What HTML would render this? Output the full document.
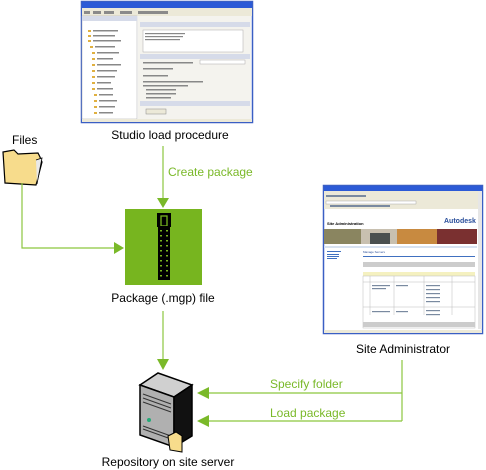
<!DOCTYPE html>
<html><head><style>
html,body{margin:0;padding:0;background:#fff;width:486px;height:470px;overflow:hidden}
svg{display:block}
text{font-family:"Liberation Sans",Arial,sans-serif;font-size:12px}
</style></head><body>
<svg width="486" height="470" viewBox="0 0 486 470">
<!-- Top screenshot -->
<g>
<rect x="81.5" y="1.5" width="171" height="121" fill="#fff" stroke="#3a5fc4" stroke-width="1.5"/>
<rect x="82" y="2" width="170" height="6" fill="#2c5ad6"/>
<rect x="82" y="8" width="170" height="8" fill="#ece9d8"/>
<g fill="#8a8a8a"><rect x="84" y="11" width="6" height="3"/><rect x="93" y="11" width="8" height="3"/><rect x="104" y="11" width="10" height="3"/><rect x="120" y="11" width="12" height="3"/><rect x="138" y="11" width="30" height="3"/></g>
<rect x="82" y="16" width="55" height="103" fill="#fff" stroke="#aaa" stroke-width="0.5"/>
<rect x="82" y="16" width="55" height="5" fill="#d6dbe9"/>
<g fill="#e0b040">
<rect x="88" y="30" width="3" height="2"/><rect x="88" y="35" width="3" height="2"/><rect x="88" y="40" width="3" height="2"/><rect x="90" y="46" width="3" height="2"/><rect x="92" y="52" width="3" height="2"/><rect x="92" y="58" width="3" height="2"/><rect x="92" y="64" width="3" height="2"/><rect x="92" y="70" width="3" height="2"/><rect x="92" y="76" width="3" height="2"/><rect x="92" y="82" width="3" height="2"/><rect x="92" y="88" width="3" height="2"/><rect x="94" y="94" width="3" height="2"/><rect x="94" y="100" width="3" height="2"/><rect x="94" y="106" width="3" height="2"/><rect x="94" y="112" width="3" height="2"/></g>
<g fill="#888"><rect x="93" y="30" width="25" height="1.5"/><rect x="93" y="35" width="22" height="1.5"/><rect x="93" y="40" width="28" height="1.5"/><rect x="95" y="46" width="20" height="1.5"/><rect x="97" y="52" width="22" height="1.5"/><rect x="97" y="58" width="16" height="1.5"/><rect x="97" y="64" width="24" height="1.5"/><rect x="97" y="70" width="20" height="1.5"/><rect x="97" y="76" width="18" height="1.5"/><rect x="97" y="82" width="14" height="1.5"/><rect x="97" y="88" width="16" height="1.5"/><rect x="99" y="94" width="14" height="1.5"/><rect x="99" y="100" width="18" height="1.5"/><rect x="99" y="106" width="16" height="1.5"/><rect x="99" y="112" width="14" height="1.5"/></g>
<rect x="138" y="16" width="113" height="103" fill="#f4f3ee"/>
<rect x="140" y="22" width="110" height="5" fill="#d6dbe9"/>
<rect x="143" y="30" width="100" height="22" fill="#fff" stroke="#aaa" stroke-width="0.5"/>
<g fill="#888"><rect x="145" y="33" width="40" height="1.2"/><rect x="145" y="36" width="38" height="1.2"/><rect x="145" y="39" width="35" height="1.2"/></g>
<rect x="140" y="54" width="110" height="5" fill="#d6dbe9"/>
<rect x="140" y="101" width="110" height="5" fill="#d6dbe9"/>
<rect x="200" y="60" width="45" height="4" fill="#fff" stroke="#aaa" stroke-width="0.5"/>
<g fill="#888"><rect x="143" y="62" width="50" height="1.5"/><rect x="143" y="68" width="30" height="1.5"/><rect x="143" y="75" width="25" height="1.5"/><rect x="143" y="81" width="60" height="1.5"/><rect x="143" y="85" width="45" height="1.5"/><rect x="146" y="89" width="30" height="1.5"/><rect x="146" y="93" width="30" height="1.5"/><rect x="146" y="97" width="25" height="1.5"/></g>
<rect x="146" y="109" width="20" height="5" fill="#ece9d8" stroke="#888" stroke-width="0.5"/>
<rect x="82" y="119" width="170" height="3" fill="#ece9d8"/>
</g>
<text x="170" y="139" text-anchor="middle">Studio load procedure</text>
<text x="168" y="176" fill="#7ab929">Create package</text>
<line x1="163" y1="146" x2="163" y2="200" stroke="#8cc63f" stroke-width="1.2"/>
<polygon points="157,198 169,198 163,208" fill="#7ab929"/>
<!-- Files -->
<text x="12" y="144">Files</text>
<g>
<path d="M3,152 L14,150 L18,154 L38,153 L40,157 L42,162 L36,185 L5,183 Z" fill="#f7dc8c" stroke="#000" stroke-width="1.2"/>
<path d="M36,160 L42,158 L37,184" fill="#e9e9e9" stroke="#000" stroke-width="0.8"/>
</g>
<polyline points="22,183 22,248 118,248" fill="none" stroke="#8cc63f" stroke-width="1.2"/>
<polygon points="114,242 124,248 114,254" fill="#7ab929"/>
<!-- package box -->
<rect x="125" y="209" width="77" height="76" fill="#77b51f"/>
<rect x="157" y="213" width="14" height="14" fill="#000"/>
<rect x="161" y="216" width="6" height="10" fill="none" stroke="#77b51f" stroke-width="1.3"/>
<rect x="158" y="226" width="12" height="54" fill="#000"/>
<g fill="#77b51f">
<rect x="160" y="230" width="2" height="1.5"/><rect x="166" y="230" width="2" height="1.5"/>
<rect x="160" y="235" width="2" height="1.5"/><rect x="166" y="235" width="2" height="1.5"/>
<rect x="160" y="240" width="2" height="1.5"/><rect x="166" y="240" width="2" height="1.5"/>
<rect x="160" y="245" width="2" height="1.5"/><rect x="166" y="245" width="2" height="1.5"/>
<rect x="160" y="250" width="2" height="1.5"/><rect x="166" y="250" width="2" height="1.5"/>
<rect x="160" y="255" width="2" height="1.5"/><rect x="166" y="255" width="2" height="1.5"/>
<rect x="160" y="260" width="2" height="1.5"/><rect x="166" y="260" width="2" height="1.5"/>
<rect x="160" y="265" width="2" height="1.5"/><rect x="166" y="265" width="2" height="1.5"/>
<rect x="160" y="270" width="2" height="1.5"/><rect x="166" y="270" width="2" height="1.5"/>
<rect x="160" y="275" width="2" height="1.5"/><rect x="166" y="275" width="2" height="1.5"/>
</g>
<text x="163" y="302" text-anchor="middle">Package (.mgp) file</text>
<line x1="163" y1="311" x2="163" y2="362" stroke="#8cc63f" stroke-width="1.2"/>
<polygon points="157,359 169,359 163,370" fill="#7ab929"/>
<!-- server -->
<g>
<polygon points="140,385 158,373 192,385 174,397" fill="#d0d0d0" stroke="#000" stroke-width="1.5"/>
<polygon points="140,385 174,397 174,447 140,435" fill="#b0b0b0" stroke="#000" stroke-width="1.5"/>
<polygon points="174,397 192,385 192,436 174,447" fill="#111" stroke="#000" stroke-width="1.5"/>
<line x1="143" y1="394" x2="171" y2="404" stroke="#333" stroke-width="1"/>
<line x1="143" y1="398" x2="171" y2="408" stroke="#333" stroke-width="1"/>
<line x1="143" y1="402" x2="171" y2="412" stroke="#333" stroke-width="1"/>
<circle cx="149" cy="420" r="2" fill="#2a7"/>
<line x1="143" y1="426" x2="171" y2="436" stroke="#333"/>
<line x1="143" y1="429" x2="171" y2="439" stroke="#333"/>
<polygon points="168,436 176,432 182,436 182,452 170,450" fill="#f7dc8c" stroke="#000" stroke-width="1"/>
</g>
<text x="168" y="466" text-anchor="middle">Repository on site server</text>
<!-- site admin screenshot -->
<g>
<rect x="323.5" y="185.5" width="159" height="148" fill="#fff" stroke="#3a5fc4" stroke-width="1.5"/>
<rect x="324" y="186" width="158" height="5" fill="#2c5ad6"/>
<rect x="324" y="191" width="158" height="18" fill="#ece9d8"/>
<g fill="#7a8aa0"><rect x="326" y="195" width="40" height="2"/><rect x="330" y="205" width="60" height="2"/></g>
<rect x="326" y="201" width="90" height="3" fill="#fff" stroke="#999" stroke-width="0.4"/>
<text x="327" y="225" style="font-size:4px;font-weight:bold">Site Administration</text>
<text x="444" y="223" style="font-size:7px;font-weight:bold" fill="#2a4f9b" font-family="Liberation Serif">Autodesk</text>
<rect x="324" y="229" width="37" height="15" fill="#8a8560"/>
<rect x="361" y="229" width="36" height="15" fill="#c8c0b0"/>
<rect x="370" y="233" width="20" height="11" fill="#4a5050"/>
<rect x="397" y="229" width="40" height="15" fill="#c88a40"/>
<rect x="437" y="229" width="40" height="15" fill="#7a3030"/>
<rect x="324" y="246" width="153" height="2" fill="#d8e2f0"/>
<g fill="#4070c0"><rect x="327" y="251" width="14" height="1"/><rect x="327" y="254" width="12" height="1"/><rect x="327" y="256" width="12" height="1"/><rect x="327" y="258" width="10" height="1"/></g>
<text x="363" y="253" style="font-size:3px" fill="#2a4f9b">Manage Servers</text>
<rect x="363" y="256" width="112" height="1" fill="#4070c0"/>
<rect x="363" y="262" width="112" height="5" fill="#ccc"/>
<rect x="363" y="272" width="112" height="4" fill="#f5f1c0"/>
<rect x="363" y="276" width="112" height="52" fill="#fff" stroke="#bbb" stroke-width="0.5"/>
<line x1="363" y1="282" x2="475" y2="282" stroke="#bbb" stroke-width="0.5"/>
<line x1="363" y1="307" x2="475" y2="307" stroke="#bbb" stroke-width="0.5"/>
<line x1="370" y1="276" x2="370" y2="315" stroke="#bbb" stroke-width="0.5"/>
<line x1="394" y1="276" x2="394" y2="315" stroke="#bbb" stroke-width="0.5"/>
<line x1="424" y1="276" x2="424" y2="315" stroke="#bbb" stroke-width="0.5"/>
<line x1="452" y1="276" x2="452" y2="315" stroke="#bbb" stroke-width="0.5"/>
<g fill="#7a8aa0"><rect x="372" y="285" width="18" height="1.2"/><rect x="372" y="288" width="14" height="1.2"/><rect x="396" y="285" width="12" height="1.2"/><rect x="426" y="285" width="14" height="1.2"/><rect x="426" y="289" width="14" height="1.2"/><rect x="426" y="293" width="14" height="1.2"/><rect x="426" y="297" width="14" height="1.2"/><rect x="426" y="301" width="14" height="1.2"/><rect x="372" y="311" width="18" height="1.2"/><rect x="396" y="311" width="12" height="1.2"/><rect x="426" y="310" width="14" height="1.2"/><rect x="426" y="314" width="14" height="1.2"/></g>
<rect x="363" y="322" width="112" height="5" fill="#ccc"/>
<rect x="478" y="191" width="4" height="138" fill="#e6e6e6"/>
<rect x="324" y="330" width="158" height="3" fill="#ece9d8"/>
</g>
<text x="403" y="353" text-anchor="middle">Site Administrator</text>
<polyline points="402,360 402,421" fill="none" stroke="#8cc63f" stroke-width="1.2"/>
<line x1="402" y1="393" x2="203" y2="393" stroke="#8cc63f" stroke-width="1.2"/>
<line x1="402" y1="421" x2="203" y2="421" stroke="#8cc63f" stroke-width="1.2"/>
<polygon points="197,393 209,387 209,399" fill="#7ab929"/>
<polygon points="197,421 209,415 209,427" fill="#7ab929"/>
<text x="270" y="388" fill="#7ab929">Specify folder</text>
<text x="270" y="417" fill="#7ab929">Load package</text>
</svg>
</body></html>
